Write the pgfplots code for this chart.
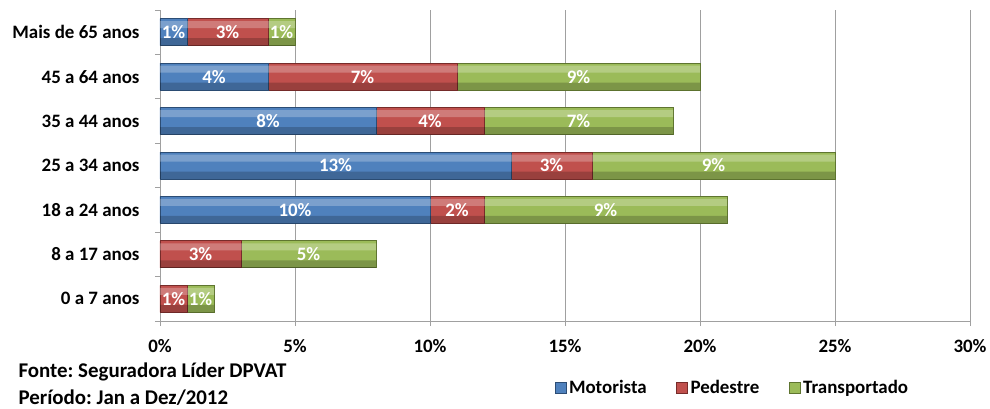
\documentclass[border=0pt]{standalone}
\usepackage{pgfplots}
\pgfplotsset{compat=1.18}
\usepackage{pgfplotstable}
\usepackage{fontspec}
\setmainfont{Carlito}
\frenchspacing
\definecolor{mot}{HTML}{4F81BD}
\definecolor{motd}{HTML}{2C4D75}
\definecolor{ped}{HTML}{C0504D}
\definecolor{pedd}{HTML}{772C2A}
\definecolor{tra}{HTML}{9BBB59}
\definecolor{trad}{HTML}{5F7530}
\definecolor{gridc}{HTML}{A0A0A0}
\pgfplotstableread{
y mot ped tra
0 0 1 1
1 0 3 5
2 10 2 9
3 13 3 9
4 8 4 7
5 4 7 9
6 1 3 1
}\data
\newcommand\lfont{\fontsize{19}{22}\selectfont\bfseries}
\newcommand\sfont{\fontsize{21}{24}\selectfont\bfseries}
\pgfplotsset{geom/.style={scale only axis, width=810bp, height=311bp,
  xmin=0, xmax=30, ymin=-0.5, ymax=6.5, /pgf/number format/assume math mode=true}}
\begin{document}
\begin{tikzpicture}
\path[use as bounding box] (-160bp,-88bp) rectangle (830bp,321bp);
\begin{axis}[
  geom,
  xbar stacked, bar width=27bp,
  xtick={0,5,...,30},
  xticklabels={0\%,5\%,10\%,15\%,20\%,25\%,30\%},
  ytick={0,...,6},
  yticklabels={0 a 7 anos,8 a 17 anos,18 a 24 anos,25 a 34 anos,35 a 44 anos,45 a 64 anos,Mais de 65 anos},
  minor ytick={-0.5,0.5,...,6.5},
  tick align=outside,
  major tick length=5bp, minor tick length=5bp,
  major y tick style={draw=none},
  minor y tick style={gridc, line width=0.8pt},
  major x tick style={gridc, line width=0.8pt},
  axis x line*=bottom, axis y line*=left,
  axis line style={gridc, line width=0.8pt, -},
  xmajorgrids, grid style={gridc, line width=0.8pt},
  ticklabel style={font=\lfont, text=black},
  xticklabel style={yshift=-10bp},
  yticklabel style={xshift=-12bp},
  legend style={at={(0.707,-0.215)}, anchor=center, draw=none, font=\lfont, legend columns=3,
    /tikz/every even column/.append style={column sep=27bp},
    nodes={inner xsep=2.5bp}},
  legend image code/.code={\path[#1] (0bp,-5.5bp) rectangle (11bp,5.5bp);},
]
\addplot[draw=motd, line width=0.8pt, fill=mot] table[x=mot,y=y]{\data};
\addplot[draw=pedd, line width=0.8pt, fill=ped] table[x=ped,y=y]{\data};
\addplot[draw=trad, line width=0.8pt, fill=tra] table[x=tra,y=y]{\data};
\legend{Motorista,Pedestre,Transportado}
\end{axis}
% top highlight of the bars
\begin{axis}[geom, hide axis, xbar stacked, bar width=7bp, bar shift=7.5bp]
\addplot[draw=none, fill=white, fill opacity=0.25] table[x=mot,y=y]{\data};
\addplot[draw=none, fill=white, fill opacity=0.25] table[x=ped,y=y]{\data};
\addplot[draw=none, fill=white, fill opacity=0.25] table[x=tra,y=y]{\data};
\end{axis}
% bottom shade of the bars
\begin{axis}[geom, hide axis, xbar stacked, bar width=7.5bp, bar shift=-9.75bp]
\addplot[draw=none, fill=black, fill opacity=0.2] table[x=mot,y=y]{\data};
\addplot[draw=none, fill=black, fill opacity=0.2] table[x=ped,y=y]{\data};
\addplot[draw=none, fill=black, fill opacity=0.2] table[x=tra,y=y]{\data};
\end{axis}
% value labels
\begin{axis}[geom, hide axis, xbar stacked, bar width=27bp,
  nodes near coords={\ifdim\rawv pt>0pt \pgfmathprintnumber{\rawv}\%\fi},
  every node near coord/.append style={anchor=center, text=white, font=\lfont}]
\addplot[draw=none, fill=none, visualization depends on={\thisrow{mot} \as \rawv}] table[x=mot,y=y]{\data};
\addplot[draw=none, fill=none, visualization depends on={\thisrow{ped} \as \rawv}] table[x=ped,y=y]{\data};
\addplot[draw=none, fill=none, visualization depends on={\thisrow{tra} \as \rawv}] table[x=tra,y=y]{\data};
\end{axis}
\node[anchor=west, font=\sfont] at (-145bp,-51bp) {Fonte: Seguradora Líder DPVAT};
\node[anchor=west, font=\sfont] at (-145bp,-77bp) {Período: Jan a Dez/2012};
\end{tikzpicture}
\end{document}
